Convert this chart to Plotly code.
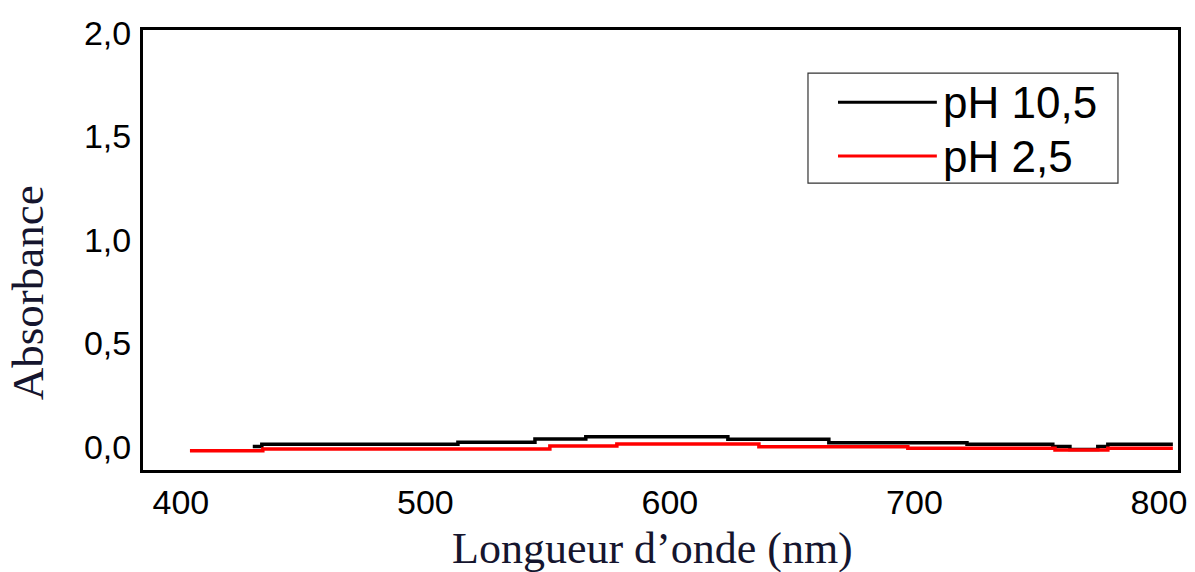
import plotly.graph_objects as go

# wavelength breakpoints (nm) and absorbance (step-like traces)
wl_ph105 = [429.4, 433.1, 513.3, 544.8, 565.6, 623.7, 665.0, 721.5, 756.6, 763.6, 775.0, 779.1, 805.7]
abs_ph105 = [0.002, 0.013, 0.023, 0.039, 0.050, 0.037, 0.021, 0.013, 0.002, -0.012, 0.002, 0.013, 0.013]

wl_ph25 = [403.7, 433.5, 550.9, 578.3, 636.4, 697.3, 757.5, 779.1, 805.7]
abs_ph25 = [-0.018, -0.010, 0.005, 0.0145, 0.0015, -0.006, -0.0145, -0.006, -0.006]

series_names = ["pH 10,5", "pH 2,5"]
series_colors = ["#000000", "#ff0000"]

x_ticks = [400, 500, 600, 700, 800]
y_ticks = [0.0, 0.5, 1.0, 1.5, 2.0]
y_ticklabels = ["0,0", "0,5", "1,0", "1,5", "2,0"]

fig = go.Figure()
for wl, ab, name, col in [(wl_ph105, abs_ph105, series_names[0], series_colors[0]),
                          (wl_ph25, abs_ph25, series_names[1], series_colors[1])]:
    fig.add_trace(go.Scatter(x=wl, y=ab, mode="lines", name=name,
                             line=dict(color=col, width=3.5, shape="hv"),
                             showlegend=False))

# hand-drawn legend box (long line samples like the original)
fig.add_shape(type="rect", xref="paper", yref="paper", x0=0.6425, x1=0.942, y0=0.652, y1=0.902,
              line=dict(color="#333333", width=1.2), fillcolor="white", layer="above")
for i, (name, col) in enumerate(zip(series_names, series_colors)):
    yy = [0.836, 0.7136][i]
    fig.add_shape(type="line", xref="paper", yref="paper", x0=0.6715, x1=0.767, y0=yy, y1=yy,
                  line=dict(color=col, width=3), layer="above")
    fig.add_annotation(xref="paper", yref="paper", x=0.771, y=yy, text=name, showarrow=False,
                       xanchor="left", yanchor="middle",
                       font=dict(family="Liberation Sans", size=44, color="black"))

# axis titles as annotations for exact placement
fig.add_annotation(xref="paper", yref="paper", x=0.4918, y=-0.179, text="Longueur d\u2019onde (nm)",
                   showarrow=False, xanchor="center", yanchor="middle",
                   font=dict(family="Liberation Serif", size=44, color="#15152e"))
fig.add_annotation(xref="paper", yref="paper", x=-0.111, y=0.402, text="Absorbance", textangle=-90,
                   showarrow=False, xanchor="center", yanchor="middle",
                   font=dict(family="Liberation Serif", size=45, color="#15152e"))

fig.update_layout(
    width=1195, height=572,
    margin=dict(l=143, r=17, t=30, b=102),
    paper_bgcolor="white", plot_bgcolor="white",
    font=dict(family="Liberation Sans", size=34, color="black"),
)
fig.update_xaxes(range=[384.5, 807.8], tickvals=x_ticks, showgrid=False, zeroline=False,
                 showline=True, linecolor="black", linewidth=3, mirror=True,
                 ticks="", ticklabelstandoff=0, automargin=False)
fig.update_yaxes(range=[-0.111, 2.014], tickvals=y_ticks, ticktext=y_ticklabels, showgrid=False,
                 zeroline=False, showline=True, linecolor="black", linewidth=3, mirror=True,
                 ticks="", ticklabelstandoff=2, automargin=False)

fig.write_html("out.html", config={"displayModeBar": False},
               post_script="document.body.style.margin='0';")
